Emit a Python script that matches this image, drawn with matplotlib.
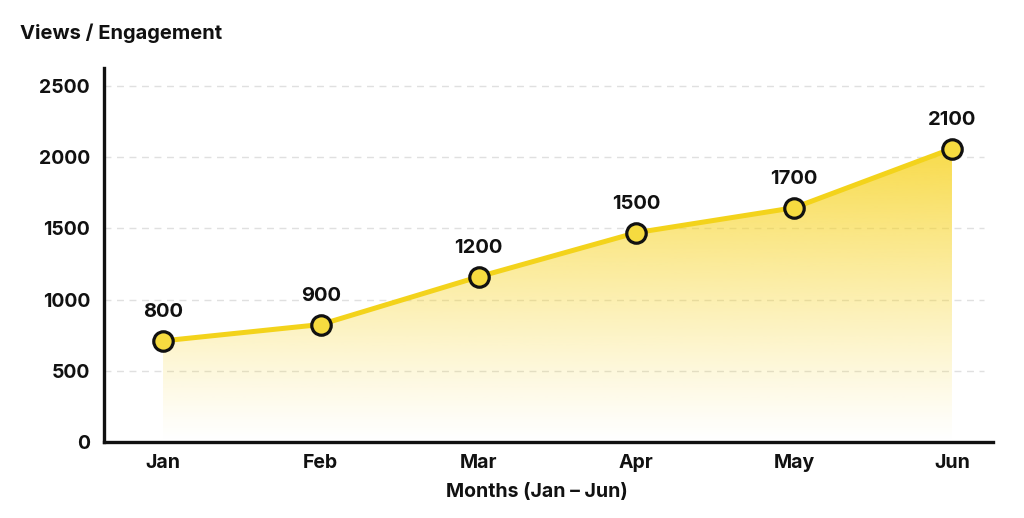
import numpy as np
import matplotlib.pyplot as plt
from matplotlib.colors import to_rgb

plt.rcParams['font.family'] = ['Inter', 'DejaVu Sans']

# Datos (posición de los puntos, etiquetas tal como aparecen)
months = ["Jan", "Feb", "Mar", "Apr", "May", "Jun"]
views = [710, 825, 1160, 1470, 1645, 2060]
point_labels = ["800", "900", "1200", "1500", "1700", "2100"]
y_ticks = [0, 500, 1000, 1500, 2000, 2500]

line_color = "#F3D31B"
marker_color = "#F6DB40"

fig = plt.figure(figsize=(10.24, 5.18), dpi=100)
ax = fig.add_axes([104 / 1024, 1 - 442 / 518, (993 - 104) / 1024, (442 - 68) / 518])

x = np.arange(len(months))
ax.set_xlim(-0.374, 5.26)
ax.set_ylim(0, 2626)

# Relleno con degradado vertical
poly = ax.fill_between(x, views, 0, color="none", lw=0)
rgb = to_rgb("#F7D321")
grad = np.linspace(0, 1, 256).reshape(-1, 1)
img = np.zeros((256, 1, 4))
img[..., 0], img[..., 1], img[..., 2] = rgb
img[..., 3] = 0.9 * grad ** 1.15
im = ax.imshow(img, extent=[x[0], x[-1], 0, 2250], origin="lower",
               aspect="auto", zorder=1, interpolation="bicubic")
im.set_clip_path(poly.get_paths()[0], transform=ax.transData)

ax.plot(x, views, color=line_color, lw=3.6, zorder=3, solid_capstyle="round")
ax.plot(x, views, "o", ms=14, mfc=marker_color, mec="#111111", mew=2.3, zorder=4)

for xi, v, lab in zip(x, views, point_labels):
    ax.annotate(lab, (xi, v), xytext=(0, 14), textcoords="offset points",
                ha="center", va="bottom", fontsize=14.5, fontweight="bold",
                color="#111111", zorder=5)

# Cuadrícula
for t in y_ticks[1:]:
    ax.axhline(t, xmin=0, xmax=0.99, color="#e0e0e0", lw=1.0, ls=(0, (5, 4)), zorder=0)

ax.set_xticks(x)
ax.set_xticklabels(months, fontsize=14, fontweight="bold")
ax.set_yticks(y_ticks)
ax.set_yticklabels([str(t) for t in y_ticks], fontsize=14, fontweight="bold")
ax.tick_params(axis="x", length=0, pad=9, colors="#111111")
ax.tick_params(axis="y", length=0, pad=10, colors="#111111")

for s in ["top", "right"]:
    ax.spines[s].set_visible(False)
for s in ["left", "bottom"]:
    ax.spines[s].set_linewidth(2.4)
    ax.spines[s].set_color("#111111")

fig.text(20 / 1024, 1 - 33 / 518, "Views / Engagement", fontsize=14.5,
         fontweight="bold", color="#111111", ha="left", va="center")
fig.text(537 / 1024, 1 - 492 / 518, "Months (Jan – Jun)", fontsize=14,
         fontweight="bold", color="#111111", ha="center", va="center")

plt.savefig("out.png", dpi=100, facecolor="white")
